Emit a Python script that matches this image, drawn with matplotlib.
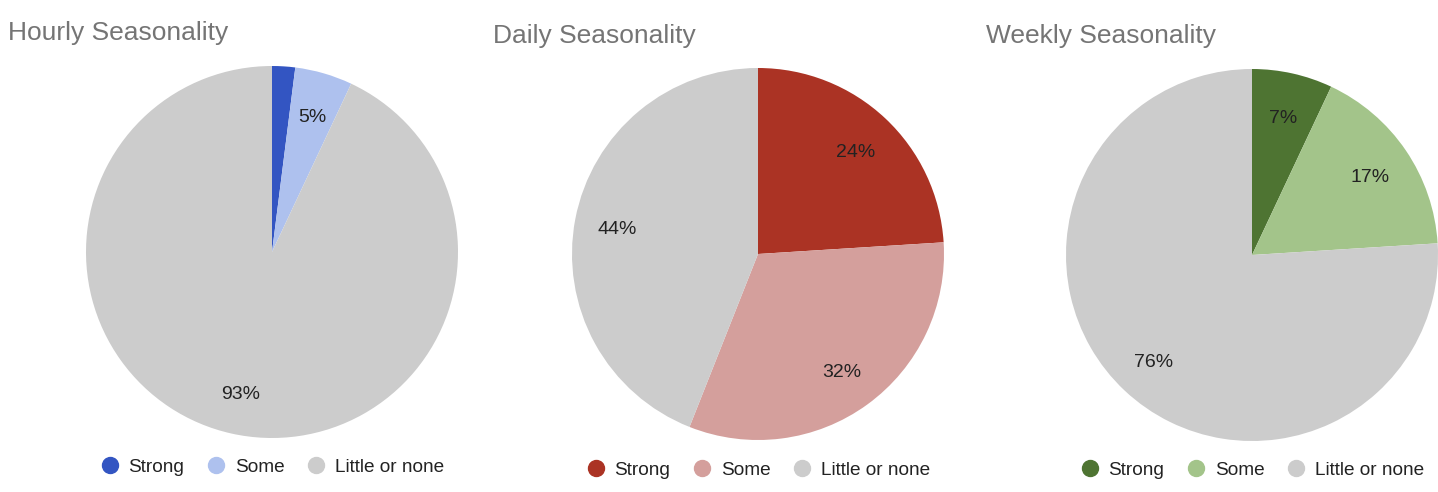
import matplotlib.pyplot as plt
from matplotlib.lines import Line2D

plt.rcParams['font.family'] = ['Liberation Sans', 'DejaVu Sans']

labels = ['Strong', 'Some', 'Little or none']
titles = ['Hourly Seasonality', 'Daily Seasonality', 'Weekly Seasonality']
hourly = [2, 5, 93]
daily = [24, 32, 44]
weekly = [7, 17, 76]
values = [hourly, daily, weekly]
colors = [['#3355c2', '#aec1ee', '#cccccc'],
          ['#ab3324', '#d49f9c', '#cccccc'],
          ['#4e7432', '#a3c48a', '#cccccc']]

W, H = 1438, 492
fig = plt.figure(figsize=(W / 100, H / 100), dpi=100)

# pie centres / radius in pixels (from top-left)
centers = [(272, 252), (758, 254), (1252, 255)]
r = 186
title_pos = [(8, 33), (493, 36), (986, 36)]
legend_y = [467, 470, 470]

def pct(p):
    return '' if p < 3 else '%d%%' % round(p)

for i in range(3):
    cx, cy = centers[i]
    ax = fig.add_axes([(cx - r) / W, 1 - (cy + r) / H, 2 * r / W, 2 * r / H])
    wedges, texts, autotexts = ax.pie(values[i], colors=colors[i], startangle=90,
                                      counterclock=False, autopct=pct, pctdistance=0.77,
                                      textprops={'fontsize': 14, 'color': '#222222'})
    for t in autotexts:
        x, y = t.get_position()
        t.set_position((x, y - 0.015))
    ax.set_xlim(-1, 1)
    ax.set_ylim(-1, 1)
    ax.set_aspect('equal')
    ax.axis('off')
    tx, ty = title_pos[i]
    fig.text(tx / W, 1 - ty / H, titles[i], fontsize=19, color='#757575',
             ha='left', va='center')
    handles = [Line2D([], [], marker='o', linestyle='', markersize=11.5,
                      markerfacecolor=c, markeredgecolor=c) for c in colors[i]]
    fig.legend(handles, labels, loc='center', bbox_to_anchor=(cx / W, 1 - legend_y[i] / H),
               ncol=3, frameon=False, fontsize=13.7, handlelength=1.0, handletextpad=0.5,
               columnspacing=1.15, labelcolor='#222222')

fig.savefig('out.png', dpi=100)
